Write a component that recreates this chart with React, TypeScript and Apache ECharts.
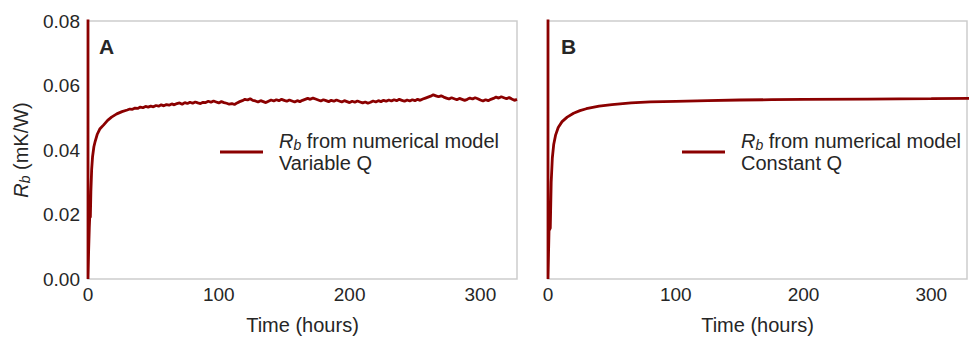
import React, { useEffect, useRef } from "react";
import * as echarts from "echarts";

// Panel A (variable Q): early rise, then noisy plateau sampled every 2 hours
const riseHoursA = [0, 0, 0.5, 1, 1.5, 1.8, 2.2, 2.8, 3.5, 4.5, 5.5, 7, 9, 12, 15, 18, 22, 26];
const riseValuesA = [0.09, 0, 0.009, 0.016, 0.021, 0.019, 0.027, 0.034, 0.038, 0.041, 0.0427, 0.0448, 0.0465, 0.0478, 0.0492, 0.0502, 0.0512, 0.0519];
const plateauStartA = 30;
const plateauStepA = 2;
const plateauValuesA = [
  0.0524, 0.0527, 0.0526, 0.053, 0.0529, 0.0533, 0.0531, 0.0535, 0.0533, 0.0536,
  0.0534, 0.0538, 0.0536, 0.054, 0.0537, 0.0541, 0.0539, 0.0543, 0.054, 0.0544,
  0.0546, 0.0542, 0.0547, 0.0544, 0.0548, 0.0545, 0.0549, 0.0546, 0.0544, 0.0548,
  0.0547, 0.0551, 0.0548, 0.0552, 0.0549, 0.0546, 0.055, 0.0547, 0.0545, 0.0542,
  0.0544, 0.0541, 0.0546, 0.055, 0.0553, 0.0557, 0.0555, 0.0559, 0.0554, 0.0552,
  0.0549, 0.0553, 0.055, 0.0547, 0.0551, 0.0555, 0.0552, 0.0556, 0.0553, 0.0557,
  0.0554, 0.0551, 0.0555, 0.0552, 0.0549, 0.0553, 0.055, 0.0554, 0.0557, 0.056,
  0.0557, 0.0561, 0.0558, 0.0555, 0.0552, 0.0556, 0.0553, 0.055, 0.0554, 0.0551,
  0.0555, 0.0552, 0.0549, 0.0553, 0.055, 0.0547, 0.0551, 0.0548, 0.0552, 0.0549,
  0.0546, 0.0549, 0.0545, 0.0548, 0.0552, 0.0549, 0.0553, 0.055, 0.0554, 0.0551,
  0.0555, 0.0552, 0.0556, 0.0553, 0.0557, 0.0554, 0.0551, 0.0555, 0.0552, 0.0556,
  0.0553, 0.0557, 0.0554, 0.0558, 0.0561, 0.0564, 0.0567, 0.0571, 0.0568, 0.0565,
  0.0568, 0.0564, 0.0561, 0.0558, 0.0562, 0.0559, 0.0556, 0.056, 0.0557, 0.0554,
  0.0557, 0.0561, 0.0558, 0.0562, 0.0559, 0.0555, 0.0552, 0.0556, 0.0553, 0.0557,
  0.056, 0.0564, 0.0561, 0.0565, 0.0562, 0.0559, 0.0563, 0.0558, 0.0554, 0.0557,
];

// Panel B (constant Q): smooth curve
const hoursB = [0, 0, 0.8, 1.8, 2.5, 3.4, 4.5, 6, 8, 11, 15, 20, 25, 30, 40, 50, 65, 80, 100, 125, 150, 175, 200, 250, 300, 330];
const valuesB = [0.09, 0, 0.015, 0.0158, 0.03, 0.0376, 0.0418, 0.0447, 0.047, 0.0488, 0.0502, 0.0514, 0.0522, 0.0528, 0.0536, 0.0541, 0.0546, 0.0549, 0.0551, 0.0553, 0.0555, 0.0556, 0.0557, 0.0558, 0.0559, 0.056];

const seriesNames = ["Variable Q", "Constant Q"];
const panelLabels = ["A", "B"];
const xName = "Time (hours)";

const FONT = "Liberation Sans, Arial, Helvetica, sans-serif";
const RED = "#8b0000";
const TXT = "#262626";

export default function App() {
  const ref = useRef<HTMLDivElement>(null);
  useEffect(() => {
    if (!ref.current) return;
    const chart = echarts.init(ref.current, undefined, { renderer: "svg" });

    const dataA: [number, number][] = riseHoursA.map((h, i) => [h, riseValuesA[i]]);
    plateauValuesA.forEach((v, i) => dataA.push([plateauStartA + i * plateauStepA, v]));
    const dataB: [number, number][] = hoursB.map((h, i) => [h, valuesB[i]]);

    const rich = {
      i: { fontStyle: "italic", fontSize: 20, color: TXT, fontFamily: FONT, lineHeight: 22 },
      s: { fontStyle: "italic", fontSize: 14, color: TXT, fontFamily: FONT, verticalAlign: "bottom", lineHeight: 16 },
      t: { fontSize: 20, color: TXT, fontFamily: FONT, lineHeight: 22 },
    };

    const gridCommon = { top: 21, width: 429, height: 262, show: true, borderColor: "#cdcdcd", borderWidth: 1.5 };
    const xCommon = {
      type: "value",
      min: 0,
      max: 328,
      interval: 100,
      axisLine: { show: false },
      axisTick: { show: false },
      splitLine: { show: false },
      axisLabel: {
        fontSize: 19,
        color: TXT,
        fontFamily: FONT,
        margin: 6,
        formatter: (v: number) => (v % 100 === 0 ? String(v) : ""),
      },
      name: xName,
      nameLocation: "middle",
      nameGap: 36,
      nameTextStyle: { fontSize: 20, color: TXT, fontFamily: FONT },
    };
    const yCommon = {
      type: "value",
      min: 0,
      max: 0.08,
      interval: 0.02,
      axisLine: { show: false },
      axisTick: { show: false },
      splitLine: { show: false },
    };

    const legendCommon = {
      orient: "vertical",
      top: 126,
      itemWidth: 43,
      itemHeight: 3,
      icon: "rect",
      formatter: (name: string) => `{i|R}{s|b}{t| from numerical model}\n{t|${name}}`,
      textStyle: { rich, padding: [0, 0, 0, 11] },
    };

    chart.setOption({
      animation: false,
      backgroundColor: "#ffffff",
      grid: [
        { ...gridCommon, left: 88 },
        { ...gridCommon, left: 548 },
      ],
      xAxis: [
        { ...xCommon, gridIndex: 0 },
        { ...xCommon, gridIndex: 1 },
      ],
      yAxis: [
        {
          ...yCommon,
          gridIndex: 0,
          axisLabel: { fontSize: 19, color: TXT, fontFamily: FONT, margin: 8, formatter: (v: number) => v.toFixed(2) },
          name: "{i|R}{s|b}{t| (mK/W)}",
          nameLocation: "middle",
          nameGap: 56,
          nameTextStyle: { rich },
        },
        { ...yCommon, gridIndex: 1, axisLabel: { show: false } },
      ],
      legend: [
        { ...legendCommon, left: 215, data: [seriesNames[0]] },
        { ...legendCommon, left: 677, data: [seriesNames[1]] },
      ],
      graphic: [
        { type: "text", left: 99, top: 36, style: { text: panelLabels[0], font: `bold 21px ${FONT}`, fill: TXT } },
        { type: "text", left: 561, top: 36, style: { text: panelLabels[1], font: `bold 21px ${FONT}`, fill: TXT } },
      ],
      series: [
        {
          name: seriesNames[0],
          type: "line",
          xAxisIndex: 0,
          yAxisIndex: 0,
          data: dataA,
          showSymbol: false,
          clip: true,
          lineStyle: { color: RED, width: 2.8 },
          itemStyle: { color: RED },
        },
        {
          name: seriesNames[1],
          type: "line",
          xAxisIndex: 1,
          yAxisIndex: 1,
          data: dataB,
          showSymbol: false,
          clip: true,
          lineStyle: { color: RED, width: 2.8 },
          itemStyle: { color: RED },
        },
      ],
    });
    return () => chart.dispose();
  }, []);
  return <div ref={ref} style={{ position: "fixed", left: 0, top: 0, width: 970, height: 340 }} />;
}
